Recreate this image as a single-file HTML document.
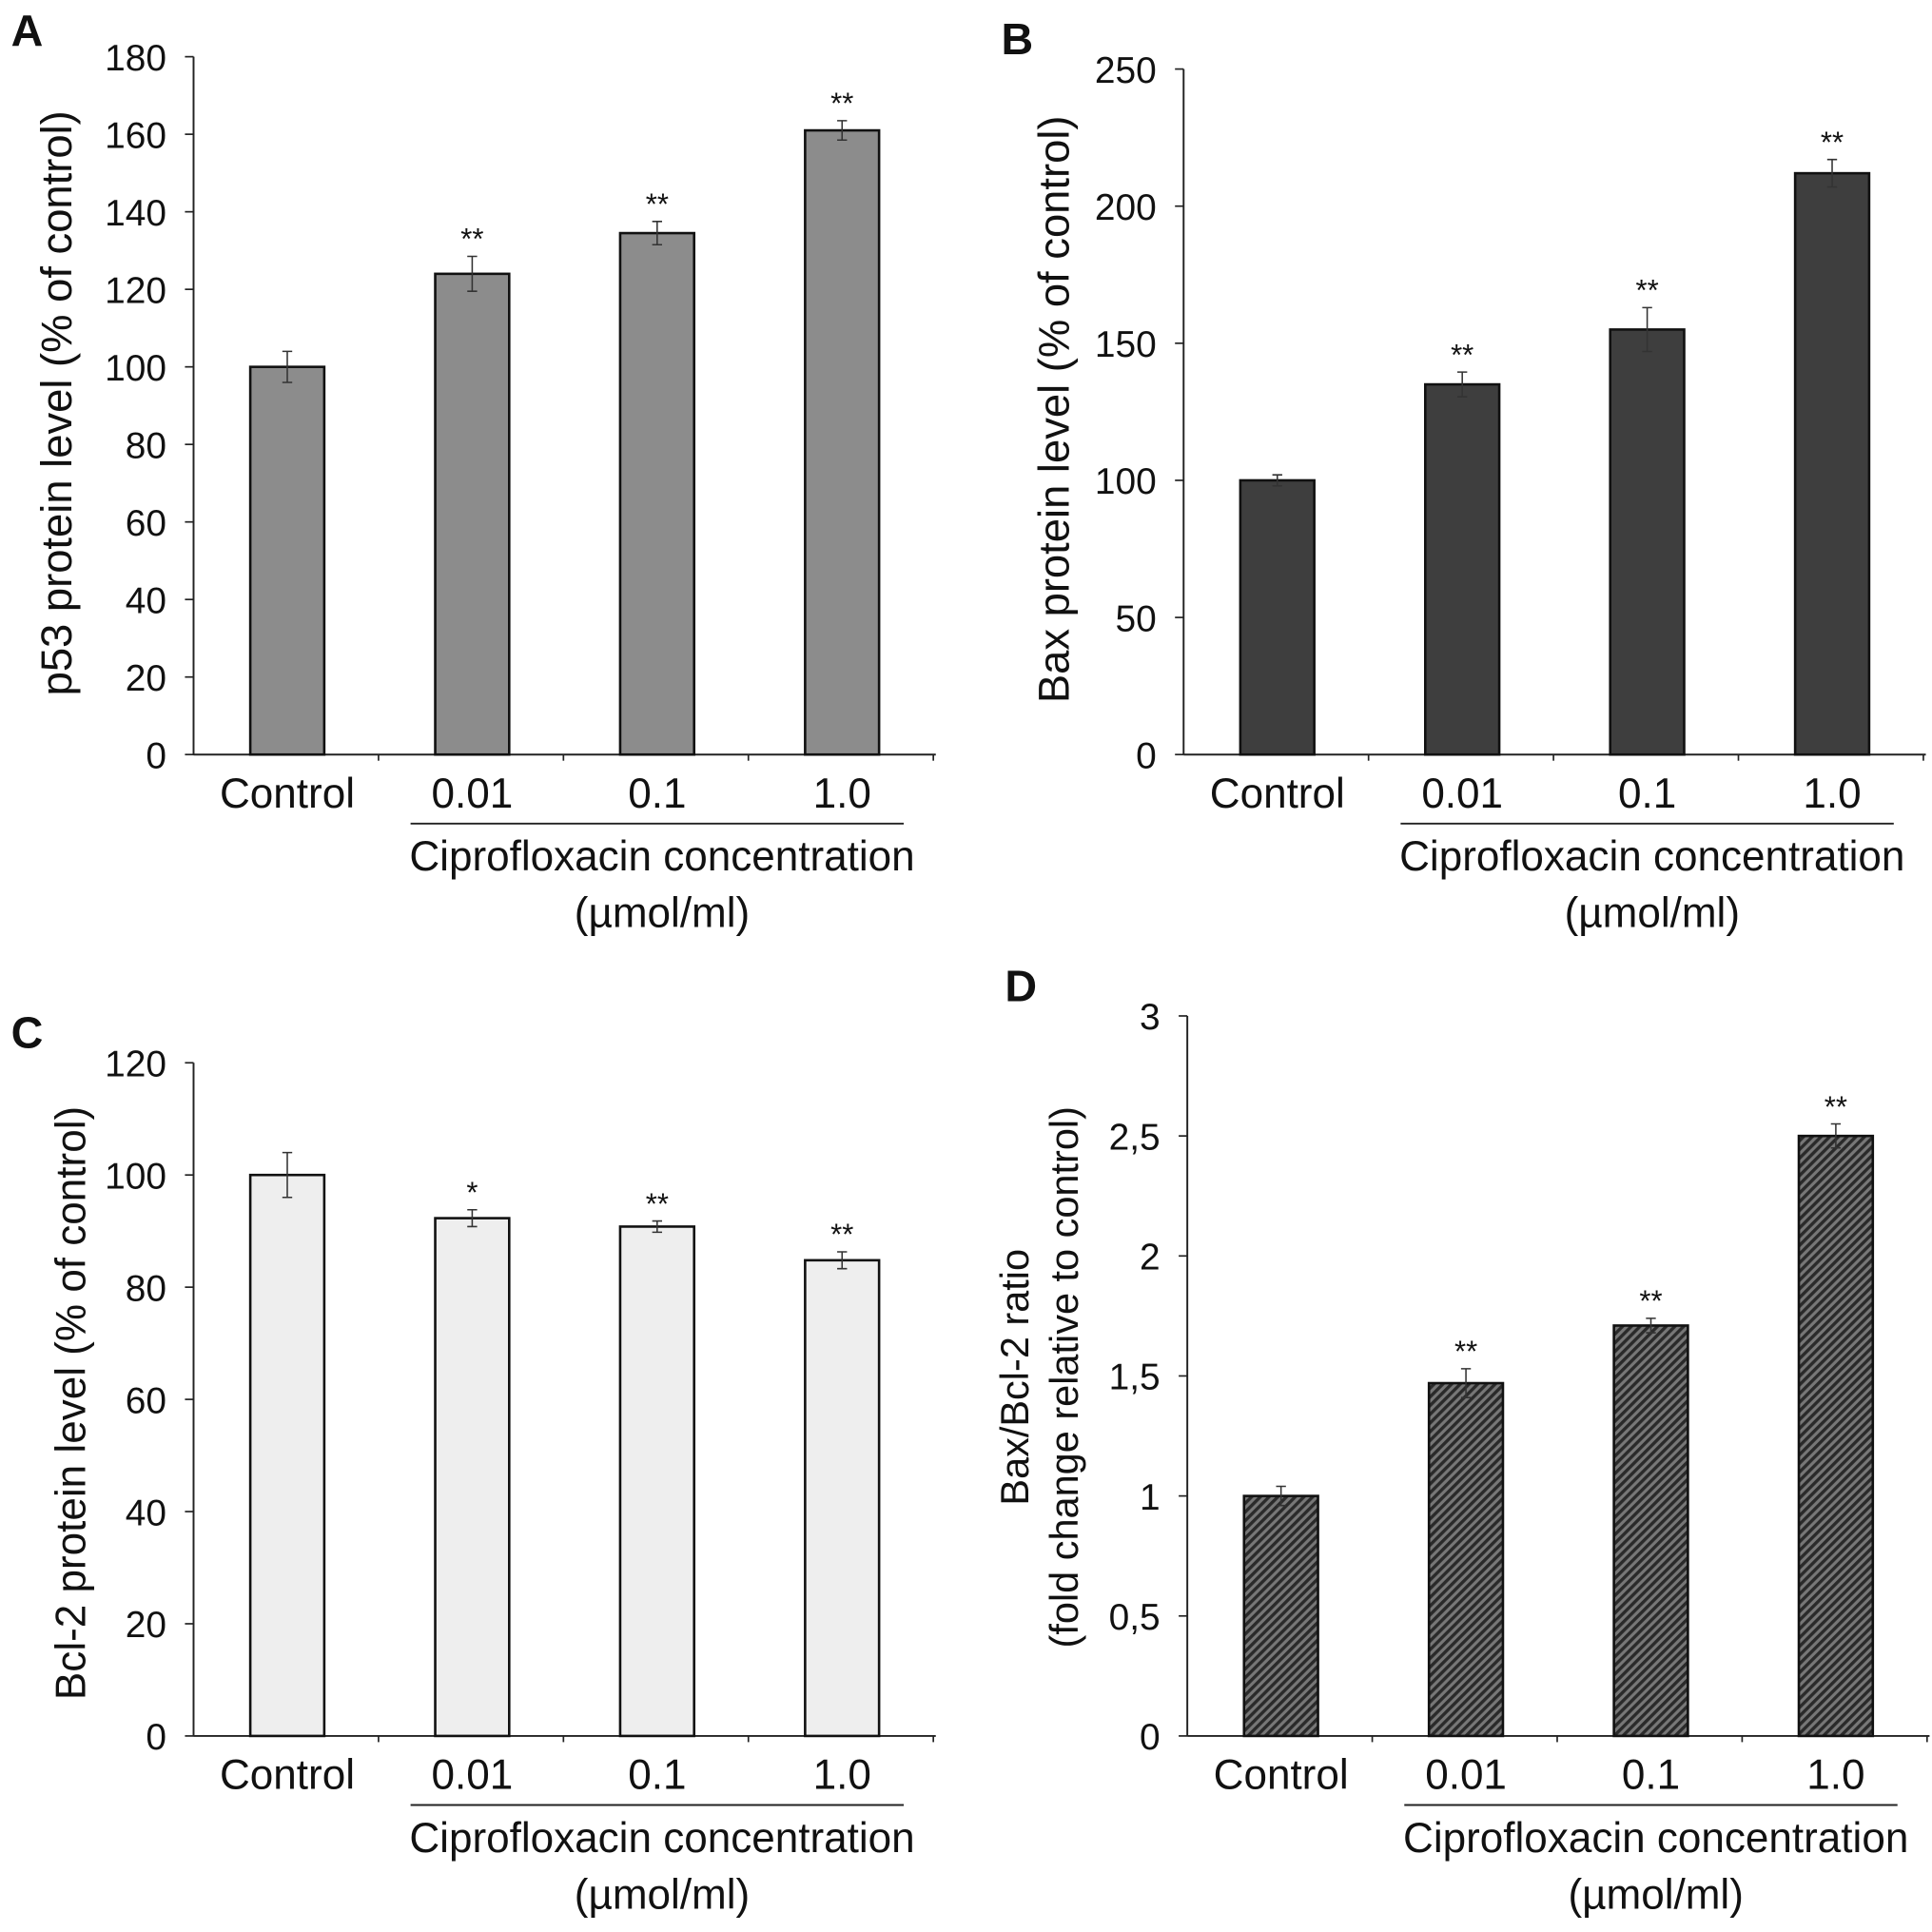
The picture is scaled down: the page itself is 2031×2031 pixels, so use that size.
<!DOCTYPE html>
<html><head><meta charset="utf-8"><style>
html,body{margin:0;padding:0;background:#fff}
svg{display:block}
text{font-family:"Liberation Sans",Arial,sans-serif;fill:#111}
</style></head><body>
<svg id="fig" width="2031" height="2031" viewBox="0 0 1567 1567" xmlns="http://www.w3.org/2000/svg">
<defs>
<pattern id="hatch" patternUnits="userSpaceOnUse" width="5" height="5" patternTransform="rotate(45)">
<rect width="5" height="5" fill="#777"/>
<rect width="2.6" height="5" fill="#2a2a2a"/>
</pattern>
</defs>
</svg>
<script>
const categories = ["Control","0.01","0.1","1.0"];
const valuesA = [100,124,134.5,161];
const errorsA = [4,4.5,3,2.5];
const starsA = ["","**","**","**"];
const ticksA = [0,20,40,60,80,100,120,140,160,180];
const valuesB = [100,135,155,212];
const errorsB = [2,4.5,8,5];
const starsB = ["","**","**","**"];
const ticksB = [0,50,100,150,200,250];
const valuesC = [100,92.3,90.8,84.8];
const errorsC = [4,1.5,1,1.5];
const starsC = ["","*","**","**"];
const ticksC = [0,20,40,60,80,100,120];
const valuesD = [1.0,1.47,1.71,2.5];
const errorsD = [0.04,0.06,0.03,0.05];
const starsD = ["","**","**","**"];
const ticksD = [0,0.5,1,1.5,2,2.5,3];
const tickLabelsD = ["0","0,5","1","1,5","2","2,5","3"];

const svg = document.getElementById('fig');
const NS = 'http://www.w3.org/2000/svg';
function mk(tag, attrs, parent){
  const e = document.createElementNS(NS, tag);
  for (const k in attrs) e.setAttribute(k, attrs[k]);
  (parent||svg).appendChild(e);
  return e;
}
function panel(p){
  const g = mk('g',{});
  
  
  const ymax = p.ticks[p.ticks.length-1];
  const y = v => p.y0 - (v/ymax)*(p.y0-p.ytop);
  const step = 150;
  const xc = i => p.ax + 76 + i*step;
  const L = mk('text',{x:p.ax-148,y:p.ytop-12+(p.id==='A'?3:0),'font-size':36,'font-weight':'bold'},g);
  L.textContent = p.id;
  
  
  const ya = mk('line',{x1:p.ax,y1:p.ytop,x2:p.ax,y2:p.y0,stroke:'#222','stroke-width':1.5},g);
  
  
  const xa = mk('line',{x1:p.ax,y1:p.y0,x2:p.ax+602,y2:p.y0,stroke:'#222','stroke-width':1.5},g);
  
  
  for (let i=1;i<=4;i++){
    const t = mk('line',{x1:p.ax+i*step,y1:p.y0,x2:p.ax+i*step,y2:p.y0+5,stroke:'#222','stroke-width':1.3},g);
    
    
  }
  p.ticks.forEach((v,i)=>{
    const t = mk('line',{x1:p.ax-7,y1:y(v),x2:p.ax,y2:y(v),stroke:'#222','stroke-width':1.3},g);
    
    
    const tl = mk('text',{x:p.ax-22,y:y(v)+11,'font-size':30,'text-anchor':'end',fill:'#222'},g);
    tl.textContent = p.tickLabels ? p.tickLabels[i] : String(v);
    
    
  });
  p.values.forEach((v,i)=>{
    const b = mk('rect',{x:xc(i)-30,y:y(v),width:60,height:p.y0-y(v),fill:p.fill,stroke:'#111','stroke-width':2},g);
    
    
    const e = p.errors[i];
    const eb = mk('path',{d:`M${xc(i)} ${y(v+e)}V${y(v-e)}M${xc(i)-4} ${y(v+e)}H${xc(i)+4}M${xc(i)-4} ${y(v-e)}H${xc(i)+4}`,stroke:'#333','stroke-width':1.2,fill:'none'},g);
    
    
    if (p.stars[i]){
      const s = mk('text',{x:xc(i),y:y(v+e)-6,'font-size':24,'text-anchor':'middle',fill:'#333'},g);
      s.textContent = p.stars[i];
      
      
    }
    const cl = mk('text',{x:xc(i),y:p.y0+43,'font-size':34,'text-anchor':'middle'},g);
    cl.textContent = categories[i];
    
    
  });
  const ul = mk('line',{x1:xc(1)-50,y1:p.y0+56,x2:xc(3)+50,y2:p.y0+56,stroke:'#222','stroke-width':1.5},g);
  
  
  const cx = (xc(1)+xc(3))/2 + 4;
  const t1 = mk('text',{x:cx,y:p.y0+94,'font-size':34,'text-anchor':'middle'},g);
  t1.textContent = 'Ciprofloxacin concentration';
  
  
  const t2 = mk('text',{x:cx,y:p.y0+140,'font-size':34,'text-anchor':'middle'},g);
  t2.textContent = '(\u00b5mol/ml)';
  
  
  p.ytitle.forEach((line,k)=>{
    const tx = p.ytx + k*40;
    const yt = mk('text',{x:tx,y:p.yty,'font-size':p.yfs,'text-anchor':'middle',transform:`rotate(-90 ${tx} ${p.yty})`,'xml:space':'preserve'},g);
    yt.textContent = line;
    
    
  });
}
panel({id:'A',ax:157,y0:612,ytop:46,ticks:ticksA,values:valuesA,errors:errorsA,stars:starsA,fill:'#8c8c8c',ytitle:['p53 protein level (% of control)'],ytx:58,yty:327,yfs:35});
panel({id:'B',ax:960,y0:612,ytop:56,ticks:ticksB,values:valuesB,errors:errorsB,stars:starsB,fill:'#3e3e3e',ytitle:['Bax protein level (% of control)'],ytx:867,yty:332,yfs:35});
panel({id:'C',ax:157,y0:1408,ytop:862,ticks:ticksC,values:valuesC,errors:errorsC,stars:starsC,fill:'#eeeeee',ytitle:['Bcl-2 protein level  (% of control)'],ytx:69,yty:1138,yfs:34});
panel({id:'D',ax:963,y0:1408,ytop:824,ticks:ticksD,tickLabels:tickLabelsD,values:valuesD,errors:errorsD,stars:starsD,fill:'url(#hatch)',ytitle:['Bax/Bcl-2 ratio','(fold change relative to control)'],ytx:834,yty:1117,yfs:32});
</script>
</body></html>
